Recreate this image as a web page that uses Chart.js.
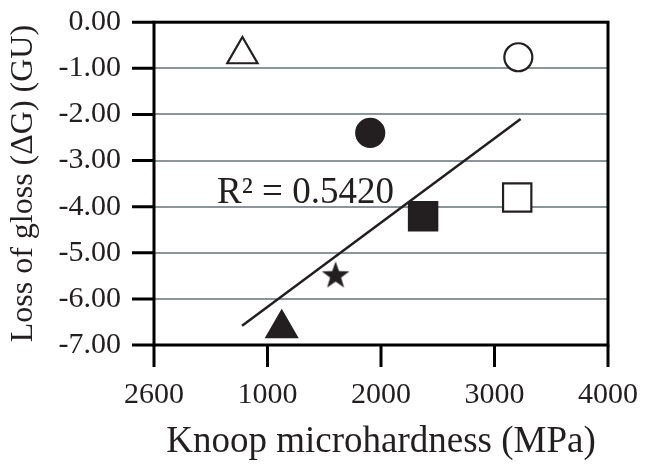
<!DOCTYPE html>
<html>
<head>
<meta charset="utf-8">
<script src="https://cdn.jsdelivr.net/npm/chart.js@4"></script>
<style>
  html,body{margin:0;padding:0;background:#fff;}
  #wrap{width:648px;height:471px;position:relative;}
</style>
</head>
<body>
<div id="wrap"><canvas id="c"></canvas></div>
<script>
const hardness  = [779, 3210, 1905, 2371, 3200, 1600, 1125];
const glossLoss = [-0.70, -0.76, -2.40, -4.21, -3.80, -5.49, -6.64];
const markers   = ['triangle','circle','circle','rect','rect','star','triangle'];
const filled    = [false, false, true, true, false, true, true];

// 추세선 양 끝
const trendX = [776, 3230];
const trendY = [-6.58, -2.10];

const xTickLabels = ['2600','1000','2000','3000','4000'];
const yTicks = [0,-1,-2,-3,-4,-5,-6,-7];
const r2Label = 'R\u00B2 = 0.5420';

const INK='#231f20', GRID='#8c9598';
const FONT='"Liberation Serif","Times New Roman",serif';
const TICK_LEN=22;

// 채운 별 모양 마커
function starCanvas(){
  const cv=document.createElement('canvas');cv.width=30;cv.height=30;
  const g=cv.getContext('2d');g.fillStyle=INK;g.beginPath();
  for(let i=0;i<10;i++){
    const r=i%2?5.8:14.5, a=-Math.PI/2+i*Math.PI/5;
    const px=15+r*Math.cos(a), py=15.5+r*Math.sin(a);
    i?g.lineTo(px,py):g.moveTo(px,py);
  }
  g.closePath();g.fill();return cv;
}
const star=starCanvas();

const radiusOf={triangle:17.5,circle:14,rect:20,star:15};

// 테두리, 바깥쪽 눈금, R² 표기
const framePlugin={
  id:'frame',
  afterDatasetsDraw(chart){
    const {ctx,chartArea:a,scales:{x,y}}=chart;
    ctx.save();
    ctx.strokeStyle='#000';ctx.lineWidth=3;
    ctx.beginPath();
    y.ticks.forEach(t=>{const py=y.getPixelForValue(t.value);ctx.moveTo(a.left-TICK_LEN,py);ctx.lineTo(a.left,py);});
    x.ticks.forEach(t=>{const px=x.getPixelForValue(t.value);ctx.moveTo(px,a.bottom);ctx.lineTo(px,a.bottom+TICK_LEN);});
    ctx.stroke();
    ctx.strokeRect(a.left,a.top,a.right-a.left,a.bottom-a.top);
    ctx.fillStyle=INK;ctx.font='37px '+FONT;ctx.textBaseline='alphabetic';
    ctx.fillText(r2Label,x.getPixelForValue(555),y.getPixelForValue(-3.93));
    ctx.restore();
  }
};

new Chart(document.getElementById('c'),{
  type:'scatter',
  data:{datasets:[
    {label:'points',
     data:hardness.map((v,i)=>({x:v,y:glossLoss[i]})),
     pointStyle:markers.map(m=>m==='star'?star:m),
     pointRadius:markers.map(m=>radiusOf[m]),
     pointHoverRadius:markers.map(m=>radiusOf[m]),
     backgroundColor:filled.map(f=>f?INK:'#fff'),
     borderColor:INK,borderWidth:2.2,showLine:false,order:1},
    {label:'trend',
     data:trendX.map((v,i)=>({x:v,y:trendY[i]})),
     showLine:true,borderColor:INK,borderWidth:2.5,pointRadius:0,order:2},
  ]},
  options:{responsive:true,maintainAspectRatio:false,animation:false,
    layout:{padding:{top:21,right:37,left:0,bottom:0}},
    plugins:{legend:{display:false},tooltip:{enabled:false}},
    scales:{
      x:{type:'linear',min:0,max:4000,
        afterFit:s=>{s.height=126;},
        afterBuildTicks:s=>{s.ticks=xTickLabels.map((_,i)=>({value:i*1000}));},
        ticks:{color:INK,font:{family:FONT,size:30},padding:10,maxRotation:0,
          callback:(v,i)=>xTickLabels[i]},
        grid:{drawOnChartArea:false,drawTicks:true,tickLength:TICK_LEN,tickColor:'rgba(0,0,0,0)'},
        border:{display:false},
        title:{display:true,text:'Knoop microhardness (MPa)',color:INK,
          font:{family:FONT,size:37},padding:{top:0,bottom:7}}},
      y:{type:'linear',min:-7,max:0,
        afterFit:s=>{s.width=154;},
        afterBuildTicks:s=>{s.ticks=yTicks.map(v=>({value:v}));},
        ticks:{color:INK,font:{family:FONT,size:30},padding:2,
          callback:v=>v.toFixed(2)},
        grid:{color:GRID,lineWidth:2,drawTicks:true,tickLength:TICK_LEN+9,tickColor:'rgba(0,0,0,0)'},
        border:{display:false},
        title:{display:true,text:'Loss of gloss (\u0394G) (GU)',color:INK,
          font:{family:FONT,size:32},padding:{top:4,bottom:0}}},
    }},
  plugins:[framePlugin]
});
</script>
</body>
</html>
